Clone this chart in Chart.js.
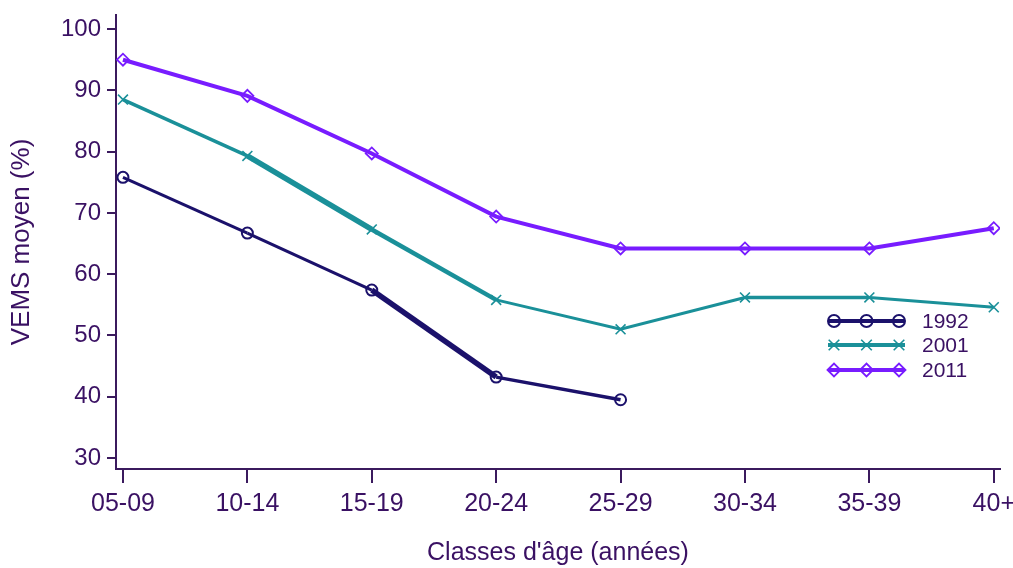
<!DOCTYPE html>
<html>
<head>
<meta charset="utf-8">
<script src="https://cdn.jsdelivr.net/npm/chart.js@4/dist/chart.umd.min.js"></script>
<style>
html,body{margin:0;padding:0;background:#fff;}
#wrap{width:1013px;height:568px;position:relative;}
</style>
</head>
<body>
<div id="wrap"><canvas id="c" width="1013" height="568"></canvas></div>
<script>
const categories = ["05-09","10-14","15-19","20-24","25-29","30-34","35-39","40+"];
const seriesNames = ["1992","2001","2011"];
const values1992 = [75.8, 66.7, 57.4, 43.2, 39.5, null, null, null];
const values2001 = [88.5, 79.3, 67.3, 55.8, 51.0, 56.2, 56.2, 54.6];
const values2011 = [95.0, 89.1, 79.7, 69.4, 64.2, 64.2, 64.2, 67.5];
const yTicks = [30, 40, 50, 60, 70, 80, 90, 100];
const yAxisTitle = "VEMS moyen (%)";
const xAxisTitle = "Classes d'âge (années)";

const FONT = "'Liberation Sans', Arial, sans-serif";
const axisColor = "#3b1a5e";
const textColor = "#3a1163";
const colors = ["#1b116b", "#1a9099", "#781cff"];
const pointStyles = ["circle", "crossRot", "rectRot"];
const pointRadii = [5.5, 7, 6];
const pointBorderWidths = [2, 1.6, 1.8];
// per-segment stroke widths as seen in the reference rendering
const segmentWidths = [
  [3, 3.2, 5.5, 3.5],
  [3.5, 5.5, 4.5, 3, 3, 3.5, 3],
  [4, 4, 4, 4, 4, 4, 4]
];

const allValues = [values1992, values2001, values2011];
const datasets = seriesNames.map((name, k) => ({
  label: name,
  data: allValues[k].map((v, i) => ({x: i, y: v})),
  borderColor: colors[k],
  backgroundColor: "rgba(0,0,0,0)",
  borderWidth: 3.5,
  segment: { borderWidth: ctx => segmentWidths[k][ctx.p0DataIndex] || 3.5 },
  pointStyle: pointStyles[k],
  pointRadius: pointRadii[k],
  pointBorderWidth: pointBorderWidths[k],
  pointBorderColor: colors[k],
  pointBackgroundColor: "rgba(0,0,0,0)",
  tension: 0,
  spanGaps: false
}));

const legendPlugin = {
  id: 'customLegend',
  afterDatasetsDraw(chart) {
    const ctx = chart.ctx;
    const ca = chart.chartArea;
    const x0 = ca.left + 712, x1 = ca.left + 789;
    const rows = [321, 345, 370];
    chart.data.datasets.forEach((ds, k) => {
      const y = rows[k];
      ctx.save();
      ctx.strokeStyle = ds.borderColor;
      ctx.fillStyle = "rgba(0,0,0,0)";
      ctx.lineWidth = 4;
      ctx.beginPath(); ctx.moveTo(x0, y); ctx.lineTo(x1, y); ctx.stroke();
      ctx.lineWidth = ds.pointBorderWidth;
      [x0 + 6, (x0 + x1) / 2, x1 - 6].forEach(px => {
        Chart.helpers.drawPoint(ctx, {pointStyle: ds.pointStyle, radius: ds.pointRadius + 0.5, borderWidth: ds.pointBorderWidth}, px, y);
      });
      ctx.fillStyle = textColor;
      ctx.font = "21px " + FONT;
      ctx.textBaseline = "middle";
      ctx.textAlign = "left";
      ctx.fillText(ds.label, x1 + 17, y + 1);
      ctx.restore();
    });
  }
};

new Chart(document.getElementById('c'), {
  type: 'line',
  data: { datasets },
  options: {
    responsive: false,
    animation: false,
    layout: { padding: { top: 15, right: 13, left: 0, bottom: 0 } },
    plugins: { legend: { display: false }, tooltip: { enabled: false } },
    scales: {
      x: {
        type: 'linear',
        min: -0.056,
        max: 7.05,
        afterBuildTicks(scale) { scale.ticks = categories.map((c, i) => ({value: i})); },
        afterFit(scale) { scale.height = 99; scale.paddingLeft = 0; scale.paddingRight = 0; },
        ticks: {
          callback: (v) => categories[v] !== undefined ? categories[v] : '',
          color: textColor,
          font: { family: FONT, size: 25 },
          padding: 6,
          maxRotation: 0,
          autoSkip: false
        },
        grid: { drawOnChartArea: false, drawTicks: true, tickLength: 14, color: axisColor, lineWidth: 2 },
        border: { display: true, color: axisColor, width: 2 },
        title: {
          display: true, text: xAxisTitle, color: textColor,
          font: { family: FONT, size: 25 },
          padding: { top: 4, bottom: 0 }
        }
      },
      y: {
        min: 28.2,
        max: 102.3,
        afterBuildTicks(scale) { scale.ticks = yTicks.map(v => ({value: v})); },
        afterFit(scale) { scale.width = 116; scale.paddingTop = 0; scale.paddingBottom = 0; },
        ticks: {
          color: textColor,
          font: { family: FONT, size: 24 },
          padding: 6
        },
        grid: { drawOnChartArea: false, drawTicks: true, tickLength: 9, color: axisColor, lineWidth: 2 },
        border: { display: true, color: axisColor, width: 2 },
        title: {
          display: true, text: yAxisTitle, color: textColor,
          font: { family: FONT, size: 26 },
          padding: { top: 6, bottom: 0 }
        }
      }
    }
  },
  plugins: [legendPlugin]
});
</script>
</body>
</html>
